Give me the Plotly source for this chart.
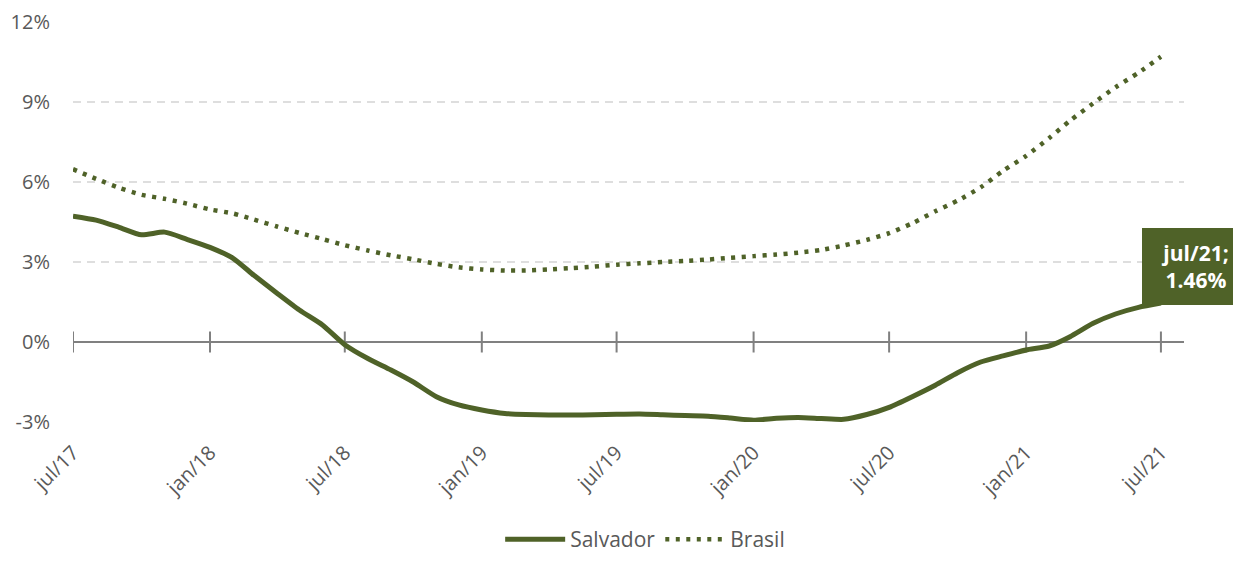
import plotly.graph_objects as go
import pandas as pd

# --- data ---
months = pd.date_range("2017-07-01", periods=49, freq="MS").strftime("%Y-%m-%d").tolist()

salvador = [4.72, 4.57, 4.30, 4.02, 4.12, 3.85, 3.55, 3.14, 2.50, 1.83,
            1.20, 0.64, -0.10, -0.62, -1.05, -1.50, -2.05, -2.36, -2.55, -2.68,
            -2.72, -2.74, -2.74, -2.73, -2.71, -2.70, -2.73, -2.76, -2.78, -2.85,
            -2.93, -2.86, -2.83, -2.87, -2.90, -2.72, -2.45, -2.05, -1.62, -1.15,
            -0.75, -0.52, -0.30, -0.15, 0.20, 0.70, 1.05, 1.30, 1.46]

brasil = [6.48, 6.12, 5.78, 5.52, 5.37, 5.19, 4.97, 4.82, 4.59, 4.33,
          4.09, 3.86, 3.63, 3.43, 3.25, 3.10, 2.93, 2.80, 2.72, 2.68,
          2.68, 2.72, 2.77, 2.83, 2.90, 2.95, 3.00, 3.04, 3.09, 3.16,
          3.22, 3.28, 3.35, 3.45, 3.62, 3.83, 4.08, 4.45, 4.90, 5.30,
          5.80, 6.42, 6.98, 7.65, 8.30, 8.95, 9.55, 10.10, 10.70]

tick_dates = ["2017-07-01", "2018-01-01", "2018-07-01", "2019-01-01", "2019-07-01",
              "2020-01-01", "2020-07-01", "2021-01-01", "2021-07-01"]
tick_labels = ["jul/17", "jan/18", "jul/18", "jan/19", "jul/19",
               "jan/20", "jul/20", "jan/21", "jul/21"]
y_ticks = [-3, 0, 3, 6, 9, 12]
y_tick_labels = ["-3%", "0%", "3%", "6%", "9%", "12%"]

GREEN = "#4F6228"
GREY_TXT = "#595959"
FONT = "Open Sans"

fig = go.Figure()

# tick marks crossing the zero axis line
fig.add_trace(go.Scatter(
    x=tick_dates, y=[0] * len(tick_dates), mode="markers",
    marker=dict(symbol="line-ns", size=15, line=dict(width=2, color="#808080")),
    showlegend=False, hoverinfo="skip"))

fig.add_trace(go.Scatter(
    x=months, y=salvador, name="Salvador", mode="lines",
    line=dict(color=GREEN, width=5, shape="spline", smoothing=0.6)))

fig.add_trace(go.Scatter(
    x=months, y=brasil, name="Brasil", mode="lines",
    line=dict(color=GREEN, width=4.5, dash="4px,6.5px", shape="spline", smoothing=0.6)))

fig.add_annotation(
    x=months[-1], y=salvador[-1], xref="x", yref="y",
    text=f"<b>{tick_labels[-1]};<br>{salvador[-1]:.2f}%</b>",
    showarrow=False, xanchor="left", yanchor="middle",
    xshift=-19, yshift=37, width=84,
    font=dict(family=FONT, size=21, color="white"),
    bgcolor=GREEN, bordercolor=GREEN, borderpad=10, align="center")

# the page body has an 8px margin, so the figure is drawn 8px smaller
fig.update_layout(
    width=1233, height=553,
    margin=dict(l=65, r=57, t=14, b=139, autoexpand=False),
    paper_bgcolor="white", plot_bgcolor="white",
    font=dict(family=FONT, color=GREY_TXT),
    showlegend=True,
    legend=dict(orientation="h", x=0.515, xanchor="center", y=-0.345, yanchor="bottom",
                font=dict(size=21, color=GREY_TXT), itemwidth=60),
    xaxis=dict(
        type="date", range=["2017-07-01", "2021-08-01"], automargin=False,
        tickvals=tick_dates, ticktext=tick_labels, tickangle=-45,
        showgrid=False, showline=False, zeroline=False, ticks="",
        ticklabelstandoff=14,
        tickfont=dict(size=20, color=GREY_TXT)),
    yaxis=dict(
        range=[-3, 12], tickvals=y_ticks, ticktext=y_tick_labels, automargin=False,
        showgrid=True, gridcolor="#dedede", gridwidth=2, griddash="8px,6px",
        zeroline=True, zerolinecolor="#808080", zerolinewidth=2,
        showline=False, ticks="", ticklabelstandoff=22,
        tickfont=dict(size=20, color=GREY_TXT)),
)

fig.write_html("out.html")
